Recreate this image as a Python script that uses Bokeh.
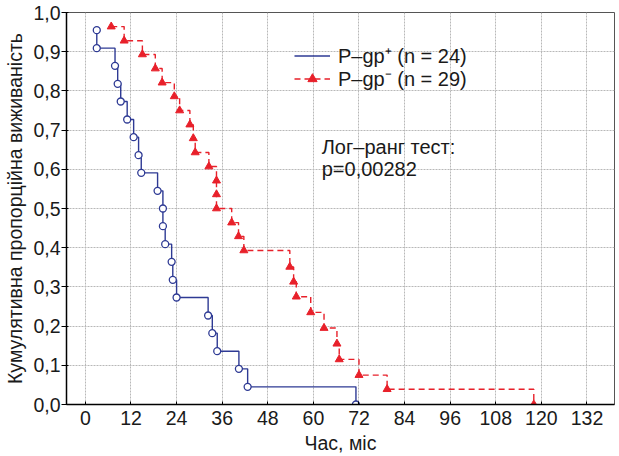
from bokeh.plotting import figure
from bokeh.models import Range1d, FixedTicker, Legend, LegendItem, Label
from bokeh.embed import file_html
from bokeh.resources import INLINE

# ---- data ----
blue_t = [3, 3, 7.8, 8.5, 9.3, 11, 12.7, 14, 14.7, 19, 20.4, 20.4, 21, 22.7, 23, 24,
          32.3, 33.4, 34.7, 40.4, 42.7, 71.2]
blue_s = [0.955, 0.909, 0.864, 0.818, 0.773, 0.727, 0.682, 0.636, 0.591, 0.545, 0.5,
          0.455, 0.409, 0.364, 0.318, 0.273, 0.227, 0.182, 0.136, 0.091, 0.045, 0.0]
red_t = [6.8, 10.2, 15.0, 18.4, 20.2, 23.4, 24.8, 27.5, 28.4, 28.9, 32.5, 34.5, 34.5,
         34.5, 38.5, 40.3, 41.7, 53.8, 54.8, 55.5, 59.3, 62.8, 66.2, 66.8, 72.0, 79.4, 118.0]
red_s = [0.964, 0.928, 0.893, 0.857, 0.821, 0.786, 0.75, 0.714, 0.679, 0.643, 0.607,
         0.571, 0.536, 0.5, 0.464, 0.429, 0.393, 0.351, 0.313, 0.275, 0.235, 0.195,
         0.155, 0.115, 0.075, 0.039, 0.0]
x_ticks = [0, 12, 24, 36, 48, 60, 72, 84, 96, 108, 120, 132]
y_ticks = [0.0, 0.1, 0.2, 0.3, 0.4, 0.5, 0.6, 0.7, 0.8, 0.9, 1.0]
y_tick_labels = ["0,0", "0,1", "0,2", "0,3", "0,4", "0,5", "0,6", "0,7", "0,8", "0,9", "1,0"]
series_names = ["P\u2013gp\u207a (n = 24)", "P\u2013gp\u207b (n = 29)"]
x_label = "Час, міс"
y_label = "Кумулятивна пропорційна виживаність"
note_lines = ["Лог\u2013ранг тест:", "p=0,00282"]

BLUE = "#2e3a94"
RED = "#e8202a"
FONT = "Liberation Sans"
FS = "19.5px"
NAN = float("nan")

p = figure(frame_width=548, frame_height=392, min_border_left=66, min_border_right=1,
           min_border_top=12, min_border_bottom=0,
           x_range=Range1d(-4.97, 139.24), y_range=Range1d(0, 1),
           output_backend="svg", toolbar_location=None,
           background_fill_color="white", border_fill_color="white")
p.outline_line_color = "#555555"
p.outline_line_width = 1

# axes
xa = p.xaxis[0]
xa.ticker = FixedTicker(ticks=x_ticks)
xa.axis_label = x_label
xa.major_tick_in = 3
xa.major_tick_out = 0
xa.minor_tick_line_color = None
xa.major_label_standoff = 6
xa.axis_label_standoff = 4
ya = p.yaxis[0]
ya.ticker = FixedTicker(ticks=y_ticks)
ya.major_label_overrides = {t: l for t, l in zip(y_ticks, y_tick_labels)}
ya.axis_label = y_label
ya.major_tick_in = 2
ya.major_tick_out = 5
ya.minor_tick_line_color = None
ya.major_label_standoff = 1
ya.axis_label_standoff = 4
for ax in (xa, ya):
    ax.axis_line_color = "black"
    ax.axis_line_width = 1.5
    ax.major_tick_line_color = "black"
    ax.major_label_text_font = FONT
    ax.major_label_text_font_size = FS
    ax.major_label_text_color = "#1a1a1a"
    ax.axis_label_text_font = FONT
    ax.axis_label_text_font_size = FS
    ax.axis_label_text_font_style = "normal"
    ax.axis_label_text_color = "#1a1a1a"

# grid
for g in (p.xgrid[0], p.ygrid[0]):
    g.grid_line_color = "#b8b8b8"
    g.grid_line_dash = "2 1"
    g.grid_line_width = 1
p.xgrid[0].ticker = FixedTicker(ticks=x_ticks)
p.ygrid[0].ticker = FixedTicker(ticks=y_ticks)

# curves
p.step(blue_t, blue_s, mode="after", line_color=BLUE, line_width=1.4)
p.scatter(blue_t, blue_s, marker="circle", size=7, fill_color="white",
          line_color=BLUE, line_width=1.3)
p.step(red_t, red_s, mode="after", line_color=RED, line_width=1.4, line_dash="6 4")
p.scatter(red_t, red_s, marker="triangle", size=8, fill_color=RED, line_color=RED)

# legend proxies (not visible in the plot area)
lb = p.line([NAN], [NAN], line_color=BLUE, line_width=1.4)
lr = p.line([NAN], [NAN], line_color=RED, line_width=1.4, line_dash="6 4")
mr = p.scatter([NAN], [NAN], marker="triangle", size=8, fill_color=RED, line_color=RED)

common = dict(glyph_width=36, glyph_height=23, label_height=23, label_standoff=8,
              spacing=0, padding=0, margin=0, border_line_color=None,
              background_fill_alpha=0, label_text_font=FONT, label_text_font_size="20px",
              label_text_color="#1a1a1a")
leg1 = Legend(items=[LegendItem(label=series_names[0], renderers=[lb])],
              location=(228, 335), **common)
leg2 = Legend(items=[LegendItem(label=series_names[1], renderers=[lr, mr])],
              location=(228, 312), **common)
p.add_layout(leg1, "center")
p.add_layout(leg2, "center")

p.add_layout(Label(x=62.2, y=0.656, text=note_lines[0], text_font=FONT,
                   text_font_size="20px", text_color="#1a1a1a", text_baseline="alphabetic"))
p.add_layout(Label(x=62.2, y=0.602, text=note_lines[1], text_font=FONT,
                   text_font_size="20px", text_color="#1a1a1a", text_baseline="alphabetic"))

open("out.html", "w").write(file_html(p, INLINE))
